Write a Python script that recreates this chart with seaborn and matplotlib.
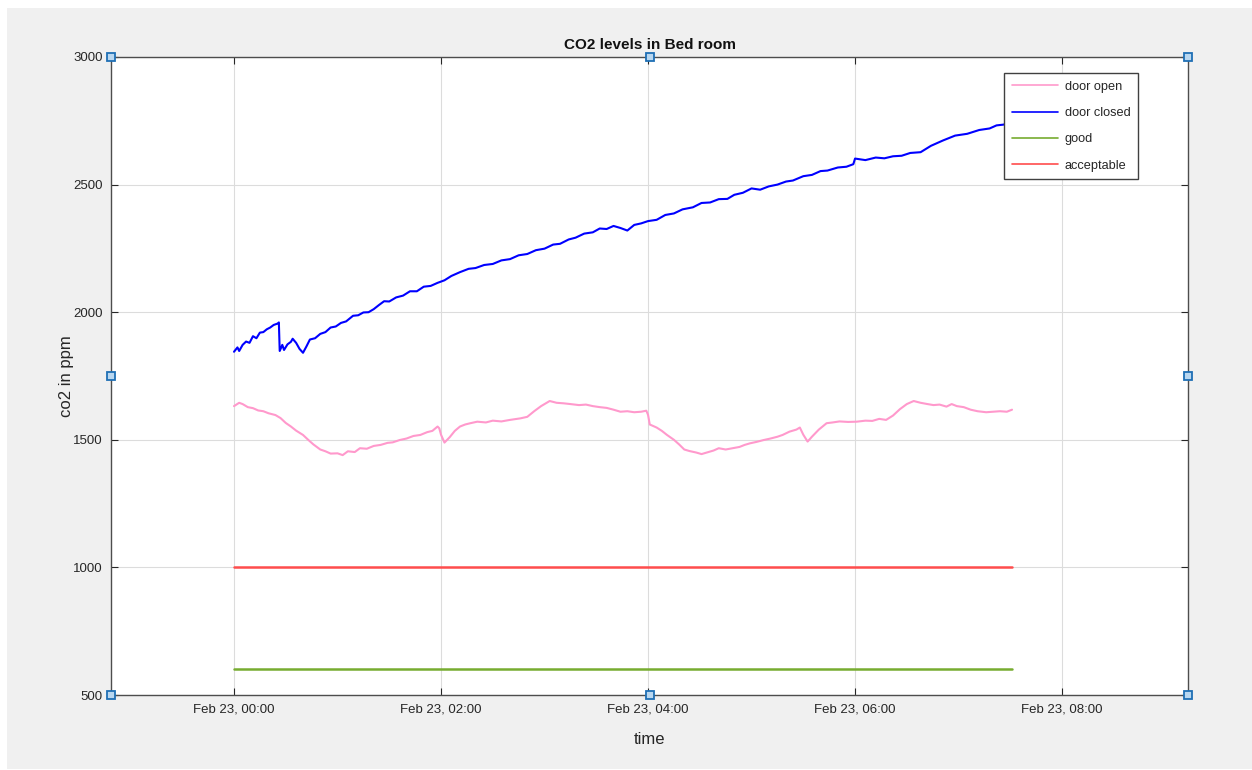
import numpy as np
import pandas as pd
import matplotlib
matplotlib.use("Agg")
import matplotlib.pyplot as plt
import matplotlib.dates as mdates
from matplotlib.patches import Rectangle
import seaborn as sns

# ---------------- data (minutes after Feb 23, 00:00) ----------------
blue_min = [0, 2, 3, 5, 7, 9, 11, 13, 15, 17,
            19, 21, 23, 25.5, 26, 26.5, 28, 29, 31, 33,
            34, 36, 38, 40, 42, 44, 47, 50, 53, 56,
            59, 62, 65, 69, 72, 75, 78, 81, 84, 87,
            90, 94, 98, 102, 106, 110, 114, 118, 122, 126,
            131, 136, 140, 145, 150, 155, 160, 165, 170, 175,
            180, 185, 189, 194, 198, 203, 208, 212, 216, 220,
            224, 228, 232, 236, 240, 245, 250, 255, 260, 266,
            271, 276, 281, 286, 290, 295, 300, 305, 310, 315,
            320, 324, 330, 335, 340, 344, 350, 355, 359, 360,
            366, 372, 377, 382, 387, 392, 398, 404, 411, 418,
            425, 432, 438, 442, 446, 450]
blue_ppm = [1845, 1862, 1848, 1872, 1885, 1880, 1906, 1898, 1920, 1922,
            1933, 1940, 1950, 1956, 1960, 1848, 1872, 1852, 1874, 1884,
            1896, 1880, 1856, 1841, 1866, 1893, 1898, 1915, 1922, 1940,
            1944, 1958, 1964, 1986, 1988, 1999, 2000, 2012, 2028, 2043,
            2042, 2058, 2065, 2082, 2082, 2100, 2103, 2115, 2125, 2142,
            2157, 2170, 2173, 2185, 2189, 2203, 2208, 2223, 2228, 2243,
            2249, 2265, 2268, 2285, 2292, 2308, 2313, 2328, 2326, 2338,
            2330, 2320, 2342, 2348, 2357, 2362, 2381, 2387, 2403, 2411,
            2428, 2430, 2443, 2444, 2460, 2468, 2485, 2480, 2493, 2500,
            2512, 2516, 2533, 2538, 2553, 2555, 2567, 2570, 2580, 2602,
            2596, 2606, 2603, 2611, 2613, 2624, 2627, 2652, 2673, 2692,
            2699, 2714, 2720, 2732, 2735, 2742]

pink_min = [0, 3, 5, 8, 11, 14, 17, 20, 24, 27,
            30, 33, 36, 40, 43, 46, 50, 53, 56, 60,
            63, 66, 70, 73, 77, 81, 85, 89, 92, 96,
            100, 104, 108, 112, 115, 118, 119, 120, 122, 125,
            128, 131, 134, 137, 141, 146, 150, 155, 160, 166,
            170, 174, 178, 183, 187, 191, 195, 200, 204, 208,
            212, 216, 220, 224, 228, 232, 236, 239, 240, 241,
            245, 248, 251, 255, 258, 261, 264, 268, 271, 275,
            278, 281, 285, 289, 293, 296, 299, 303, 307, 311,
            315, 318, 322, 326, 328, 330, 332.5, 335, 339, 343.5,
            347, 351, 356, 361, 366, 370, 374, 378, 382, 386,
            390, 394, 398, 402, 405.5, 409, 413, 416, 419, 423,
            427, 431, 436, 440, 444, 448, 451]
pink_ppm = [1632, 1645, 1640, 1628, 1624, 1615, 1612, 1604, 1597, 1585,
            1566, 1552, 1536, 1519, 1500, 1482, 1462, 1455, 1446, 1447,
            1440, 1455, 1452, 1467, 1465, 1476, 1480, 1488, 1490, 1499,
            1505, 1515, 1519, 1530, 1535, 1552, 1545, 1520, 1489, 1510,
            1535, 1552, 1560, 1565, 1571, 1568, 1575, 1572, 1578, 1584,
            1590, 1612, 1632, 1652, 1645, 1643, 1640, 1636, 1638, 1632,
            1628, 1625, 1618, 1610, 1612, 1608, 1610, 1614, 1598, 1560,
            1548, 1535, 1519, 1500, 1482, 1462, 1456, 1450, 1444, 1452,
            1458, 1467, 1462, 1467, 1472, 1480, 1486, 1492, 1499, 1505,
            1512, 1519, 1532, 1540, 1548, 1520, 1493, 1512, 1540, 1565,
            1568, 1572, 1570, 1571, 1575, 1574, 1582, 1578, 1595, 1620,
            1640, 1652, 1645, 1640, 1636, 1638, 1630, 1640, 1632, 1628,
            1618, 1612, 1608, 1610, 1612, 1610, 1618]

limit_min = [0, 451]
good_ppm = [600, 600]
acceptable_ppm = [1000, 1000]

series_names = ["door open", "door closed", "good", "acceptable"]
series_colors = ["#ff99cc", "#0000ff", "#77ac30", "#ff4d4d"]

y_ticks = [500, 1000, 1500, 2000, 2500, 3000]
x_tick_hours = [0, 2, 4, 6, 8]
x_range_min = [-71.3, 553.0]
y_range = [500, 3000]

title_text = "CO2 levels in Bed room"
x_label = "time"
y_label = "co2 in ppm"

# ---------------- build frame ----------------
base = pd.Timestamp("2021-02-23 00:00")
def to_time(mins):
    return base + pd.to_timedelta(np.asarray(mins, dtype=float), unit="m")

frames = []
for name, mins, vals in [("door open", pink_min, pink_ppm),
                         ("door closed", blue_min, blue_ppm),
                         ("good", limit_min, good_ppm),
                         ("acceptable", limit_min, acceptable_ppm)]:
    assert len(mins) == len(vals)
    frames.append(pd.DataFrame({"time": to_time(mins), "ppm": vals, "series": name}))
df = pd.concat(frames, ignore_index=True)

# ---------------- style ----------------
sns.set_style("whitegrid")
plt.rcParams["font.family"] = ["Liberation Sans Narrow", "Liberation Sans", "DejaVu Sans"]

fig = plt.figure(figsize=(12.52, 7.70), dpi=100, facecolor="white")
fig.patches.append(Rectangle((7 / 1252, 1 - 769 / 770), 1 - 7 / 1252, (769 - 8) / 770,
                             transform=fig.transFigure, facecolor="#f0f0f0",
                             edgecolor="none", zorder=0))
ax = fig.add_axes([111 / 1252, 1 - 695 / 770, (1188 - 111) / 1252, (695 - 57) / 770])
ax.set_zorder(5)
ax.set_facecolor("white")

widths = {"door open": 1.5, "door closed": 1.5, "good": 1.8, "acceptable": 1.8}
palette = dict(zip(series_names, series_colors))
for name in series_names:
    sub = df[df["series"] == name]
    sns.lineplot(data=sub, x="time", y="ppm", color=palette[name], label=name,
                 estimator=None, sort=False, linewidth=widths[name], ax=ax)

ax.set_xlim(to_time([x_range_min[0]])[0], to_time([x_range_min[1]])[0])
ax.set_ylim(*y_range)
ax.set_yticks(y_ticks)
ax.set_xticks(to_time([h * 60 for h in x_tick_hours]))
ax.xaxis.set_major_formatter(mdates.DateFormatter("%b %d, %H:%M"))

ax.grid(True, color="#dcdcdc", linewidth=0.8)
for s in ax.spines.values():
    s.set_visible(True)
    s.set_color("#4d4d4d")
    s.set_linewidth(1.0)
ax.tick_params(axis="both", direction="in", length=5, width=0.8, color="#262626",
               labelsize=9.5, labelcolor="#262626", top=True, right=True,
               bottom=True, left=True, pad=6)

ax.set_title(title_text, fontsize=11, fontweight="bold", color="#111111", pad=6)
ax.set_xlabel(x_label, fontsize=12, color="#262626", labelpad=12)
ax.set_ylabel(y_label, fontsize=12, color="#262626", labelpad=-1)

leg = ax.legend(loc="upper right", bbox_to_anchor=((1138 - 111) / 1077, (695 - 73) / 638),
                fontsize=9.2, frameon=True, fancybox=False, framealpha=1,
                edgecolor="#404040", handlelength=3.6, labelspacing=1.12,
                borderpad=0.6, handletextpad=0.55, borderaxespad=0)
leg.get_frame().set_linewidth(1.0)
for h in leg.get_lines():
    h.set_linewidth(1.2)

# selection handles of the original window
for fx, fy in [(0, 0), (0.5, 0), (1, 0), (0, 0.5), (1, 0.5), (0, 1), (0.5, 1), (1, 1)]:
    ax.plot([fx], [fy], marker="s", markersize=6, markerfacecolor="#b9d7f0",
            markeredgecolor="#1f6fb5", markeredgewidth=1.3, transform=ax.transAxes,
            clip_on=False, zorder=10)

fig.savefig("out.png", dpi=100, facecolor="white")
